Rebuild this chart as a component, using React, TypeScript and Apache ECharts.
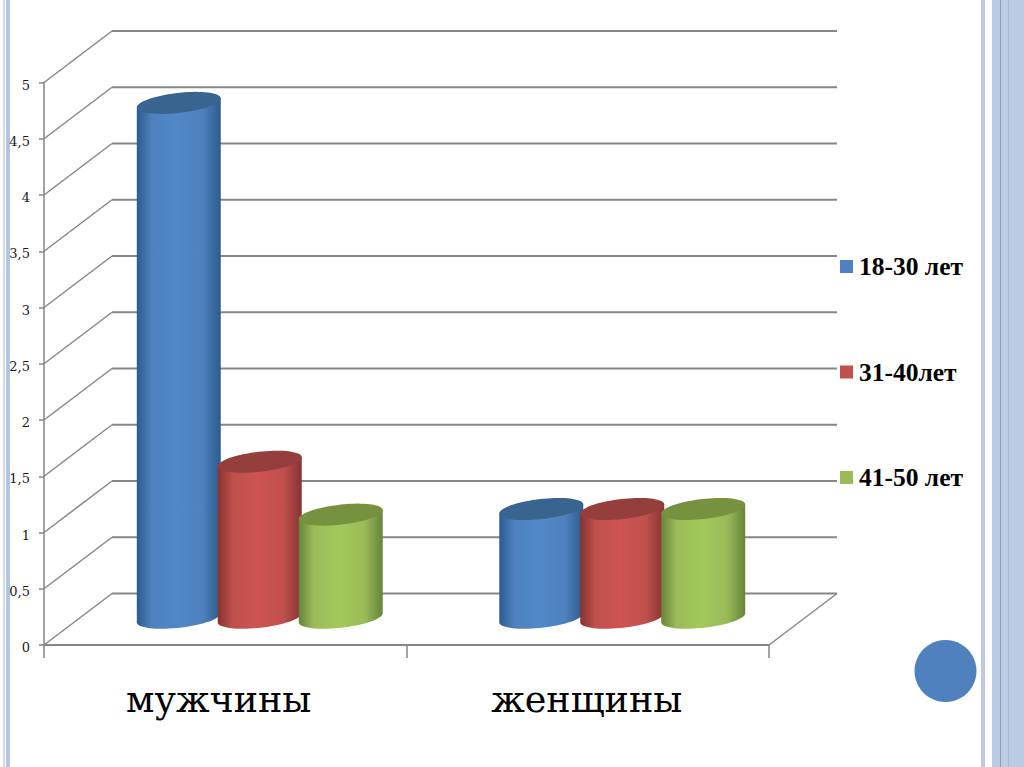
import React, { useEffect, useRef } from "react";
import * as echarts from "echarts";

const categories = ["мужчины", "женщины"];
const yTicks = [0, 0.5, 1, 1.5, 2, 2.5, 3, 3.5, 4, 4.5, 5];
const seriesNames = ["18-30 лет", "31-40лет", "41-50 лет"];
const values18to30 = [4.59, 0.98];
const values31to40 = [1.4, 0.98];
const values41to50 = [0.93, 0.98];

const seriesValues = [values18to30, values31to40, values41to50];
const palette = [
  { base: "#4f81bd", edge: "#2d5b90", mid: "#5088c8", top: "#39648f" },
  { base: "#c0504d", edge: "#873331", mid: "#cc5452", top: "#953f3d" },
  { base: "#9bbb59", edge: "#66853a", mid: "#a2c95c", top: "#76923f" },
];

const DEPTH_X = 68;
const DEPTH_Y = 51.5;
const GRID_COLOR = "#868686";

function wallItem(params: any, api: any) {
  const c = params.coordSys;
  const y = api.coord([0, api.value(1)])[1];
  const v = api.value(1);
  const lineStyle = { stroke: GRID_COLOR, lineWidth: 2, fill: "none" };
  const children: any[] = [
    {
      type: "line",
      shape: { x1: c.x + DEPTH_X, y1: y - DEPTH_Y, x2: c.x + c.width + DEPTH_X, y2: y - DEPTH_Y },
      style: lineStyle,
    },
    {
      type: "line",
      shape: { x1: c.x, y1: y, x2: c.x + DEPTH_X, y2: y - DEPTH_Y },
      style: { ...lineStyle, lineWidth: 1.5 },
    },
  ];
  if (v === 0) {
    children.push({
      type: "line",
      shape: { x1: c.x + c.width, y1: y, x2: c.x + c.width + DEPTH_X, y2: y - DEPTH_Y },
      style: { ...lineStyle, lineWidth: 1.5 },
    });
  }
  return { type: "group", children };
}

function ellipsePoint(cx: number, cy: number, rx: number, ry: number, rad: number, t: number) {
  return [
    cx + rx * Math.cos(t) * Math.cos(rad) - ry * Math.sin(t) * Math.sin(rad),
    cy + rx * Math.cos(t) * Math.sin(rad) + ry * Math.sin(t) * Math.cos(rad),
  ];
}

function cylinderItem(seriesIndex: number) {
  return (_params: any, api: any) => {
    const p = palette[seriesIndex];
    const band = api.size([1, 0])[0];
    const step = band * 0.2234;
    const half = band * 0.1158;
    const top = api.coord([api.value(0), api.value(1)]);
    const base = api.coord([api.value(0), 0]);
    const cx = top[0] + (seriesIndex - 1) * step + DEPTH_X / 2 + 0.5;
    const topY = top[1] - DEPTH_Y / 2;
    const baseY = base[1] - DEPTH_Y / 2 - 1.5;
    const rad = (-6.5 * Math.PI) / 180;
    const rx = half / Math.cos(rad);
    const ry = 10;
    const samples = 72;
    const capPoints: number[][] = [];
    for (let i = 0; i < samples; i++) {
      capPoints.push(ellipsePoint(cx, topY, rx, ry, rad, (i / samples) * Math.PI * 2));
    }
    const bodyPoints: number[][] = [];
    for (let i = 0; i <= samples / 2; i++) {
      bodyPoints.push(ellipsePoint(cx, baseY, rx, ry, rad, Math.PI - (i / (samples / 2)) * Math.PI));
    }
    bodyPoints.push(ellipsePoint(cx, topY, rx, ry, rad, 0));
    bodyPoints.push(ellipsePoint(cx, topY, rx, ry, rad, Math.PI));
    return {
      type: "group",
      children: [
        {
          type: "polygon",
          shape: { points: bodyPoints },
          style: {
            fill: new echarts.graphic.LinearGradient(0, 0, 1, 0, [
              { offset: 0, color: p.edge },
              { offset: 0.18, color: p.base },
              { offset: 0.48, color: p.mid },
              { offset: 0.78, color: p.base },
              { offset: 1, color: p.edge },
            ]),
          },
        },
        { type: "polygon", shape: { points: capPoints }, style: { fill: p.top } },
      ],
    };
  };
}

const stripes = [
  { x: 3, w: 2, color: "#d5deee" },
  { x: 6, w: 4, color: "#b4c6e4" },
  { x: 981, w: 4, color: "#bccae4" },
  { x: 992, w: 32, color: "#bccae4" },
  { x: 1000, w: 1, color: "#7f9cc6" },
  { x: 1008, w: 1, color: "#a6b8d8" },
];

export default function App() {
  const ref = useRef<HTMLDivElement>(null);

  useEffect(() => {
    document.body.style.margin = "0";
    const chart = echarts.init(ref.current!, undefined, { renderer: "svg" });
    chart.setOption({
      animation: false,
      backgroundColor: "#ffffff",
      grid: { left: 44, top: 82.5, width: 725, height: 562.5, containLabel: false },
      xAxis: {
        type: "category",
        data: categories,
        axisLine: { lineStyle: { color: GRID_COLOR, width: 2 } },
        axisTick: { show: true, length: 13, lineStyle: { color: GRID_COLOR, width: 1.5 } },
        axisLabel: {
          fontFamily: "DejaVu Serif",
          fontSize: 36.5,
          color: "#000000",
          margin: 36,
          interval: 0,
          formatter: (v: string) => (v === categories[0] ? `{men|${v}}` : `{women|${v}}`),
          rich: {
            men: { fontFamily: "DejaVu Serif", fontSize: 36.5, color: "#000000", padding: [0, 13, 0, 0] },
            women: { fontFamily: "DejaVu Serif", fontSize: 36.5, color: "#000000", padding: [0, 2, 0, 0] },
          },
        },
      },
      yAxis: {
        type: "value",
        min: 0,
        max: 5,
        interval: 0.5,
        splitLine: { show: false },
        axisLine: { show: true, lineStyle: { color: GRID_COLOR, width: 1.5 } },
        axisTick: { show: true, length: 5, lineStyle: { color: GRID_COLOR, width: 1.5 } },
        axisLabel: {
          fontFamily: "DejaVu Serif",
          fontSize: 13,
          color: "#1a1a1a",
          margin: 14,
          formatter: (v: number) => `{t|${String(v).replace(".", ",")}}`,
          rich: {
            t: { fontFamily: "DejaVu Serif", fontSize: 13, color: "#1a1a1a", padding: [5, 0, 0, 0] },
          },
        },
      },
      legend: {
        orient: "vertical",
        left: 835,
        top: 248.5,
        itemWidth: 13,
        itemHeight: 13,
        itemGap: 79.5,
        icon: "rect",
        data: seriesNames,
        selectedMode: false,
        textStyle: {
          fontFamily: "Liberation Serif",
          fontWeight: "bold",
          fontSize: 25.5,
          color: "#000000",
          padding: [0, 0, 0, 1],
        },
      },
      series: [
        {
          type: "custom",
          name: "walls",
          silent: true,
          renderItem: wallItem,
          encode: { x: 0, y: 1 },
          data: yTicks.map((v) => [0, v]),
        },
        ...seriesNames.map((name, i) => ({
          type: "custom",
          name,
          silent: true,
          itemStyle: { color: palette[i].base },
          renderItem: cylinderItem(i),
          encode: { x: 0, y: 1 },
          data: seriesValues[i].map((v, c) => [c, v]),
        })),
      ],
      graphic: [
        ...stripes.map((s) => ({
          type: "rect",
          silent: true,
          shape: { x: s.x, y: 0, width: s.w, height: 767 },
          style: { fill: s.color },
        })),
        {
          type: "circle",
          silent: true,
          shape: { cx: 945.5, cy: 671, r: 31 },
          style: { fill: "#4f81bd" },
        },
      ],
    });
    return () => chart.dispose();
  }, []);

  return <div ref={ref} style={{ width: 1024, height: 767, position: "absolute", left: 0, top: 0 }} />;
}
